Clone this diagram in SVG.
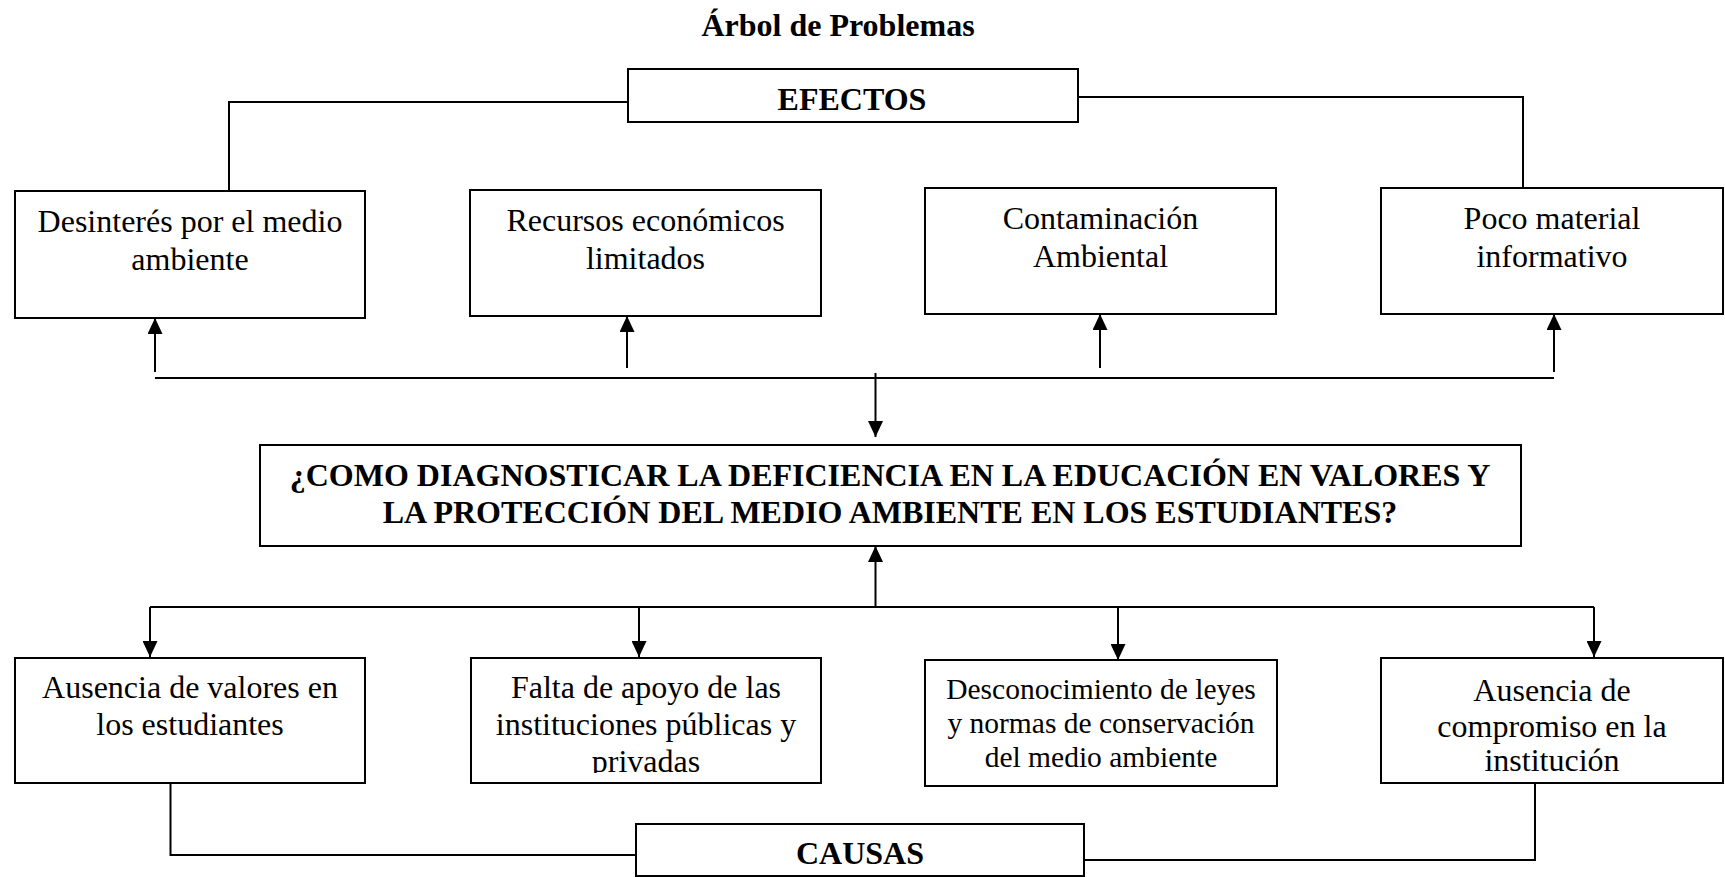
<svg xmlns="http://www.w3.org/2000/svg" width="1725" height="877" viewBox="0 0 1725 877">
<style>
.box{fill:#fff;stroke:#000;stroke-width:2}
.t{font-family:"Liberation Serif","Times New Roman",serif;font-size:32px;fill:#000;text-anchor:middle}
.b{font-weight:bold}
.s{font-size:29.5px}
.c{fill:none;stroke:#000;stroke-width:2}
</style>
<defs>
<marker id="ah" markerUnits="userSpaceOnUse" markerWidth="16" markerHeight="15" refX="16" refY="7.5" orient="auto">
<path d="M0,0 L16,7.5 L0,15 z" fill="#000"/>
</marker>
<clipPath id="clipFalta"><rect x="471" y="658" width="350" height="115"/></clipPath>
</defs>
<rect width="1725" height="877" fill="#fff"/>
<text class="t b" x="838" y="36">Árbol de Problemas</text>

<g id="connectors">
<polyline class="c" points="628,102 229,102 229,191"/>
<polyline class="c" points="1078,97 1523,97 1523,188"/>
<line class="c" x1="155" y1="372" x2="155" y2="318" marker-end="url(#ah)"/>
<line class="c" x1="627" y1="368" x2="627" y2="316" marker-end="url(#ah)"/>
<line class="c" x1="1100" y1="368" x2="1100" y2="314" marker-end="url(#ah)"/>
<line class="c" x1="1554" y1="372" x2="1554" y2="314" marker-end="url(#ah)"/>
<line class="c" x1="155" y1="378" x2="1554" y2="378"/>
<line class="c" x1="875.5" y1="373" x2="875.5" y2="437" marker-end="url(#ah)"/>
<line class="c" x1="875.5" y1="607" x2="875.5" y2="546" marker-end="url(#ah)"/>
<line class="c" x1="150" y1="607" x2="1594" y2="607"/>
<line class="c" x1="150" y1="607" x2="150" y2="657" marker-end="url(#ah)"/>
<line class="c" x1="639" y1="607" x2="639" y2="657" marker-end="url(#ah)"/>
<line class="c" x1="1118" y1="607" x2="1118" y2="660" marker-end="url(#ah)"/>
<line class="c" x1="1594" y1="607" x2="1594" y2="657" marker-end="url(#ah)"/>
<polyline class="c" points="170.5,783 170.5,855 636,855"/>
<polyline class="c" points="1535,783 1535,860 1084,860"/>
</g>

<g id="efectos">
<rect class="box" x="628" y="69" width="450" height="53"/>
<text class="t b" x="852" y="110">EFECTOS</text>
</g>
<g id="desinteres">
<rect class="box" x="15" y="191" width="350" height="127"/>
<text class="t" x="190" y="232">Desinterés por el medio</text>
<text class="t" x="190" y="270">ambiente</text>
</g>
<g id="recursos">
<rect class="box" x="470" y="190" width="351" height="126"/>
<text class="t" x="645.5" y="231">Recursos económicos</text>
<text class="t" x="645.5" y="269">limitados</text>
</g>
<g id="contaminacion">
<rect class="box" x="925" y="188" width="351" height="126"/>
<text class="t" x="1100.5" y="229">Contaminación</text>
<text class="t" x="1100.5" y="267">Ambiental</text>
</g>
<g id="poco">
<rect class="box" x="1381" y="188" width="342" height="126"/>
<text class="t" x="1552" y="229">Poco material</text>
<text class="t" x="1552" y="267">informativo</text>
</g>

<g id="problema">
<rect class="box" x="260" y="445" width="1261" height="101"/>
<text class="t b" x="890" y="486">¿COMO DIAGNOSTICAR LA DEFICIENCIA EN LA EDUCACIÓN EN VALORES Y</text>
<text class="t b" x="890" y="523">LA PROTECCIÓN DEL MEDIO AMBIENTE EN LOS ESTUDIANTES?</text>
</g>

<g id="ausencia-valores">
<rect class="box" x="15" y="658" width="350" height="125"/>
<text class="t" x="190" y="698">Ausencia de valores en</text>
<text class="t" x="190" y="735">los estudiantes</text>
</g>
<g id="falta-apoyo">
<rect class="box" x="471" y="658" width="350" height="125"/>
<g clip-path="url(#clipFalta)">
<text class="t" x="646" y="698">Falta de apoyo de las</text>
<text class="t" x="646" y="735">instituciones públicas y</text>
<text class="t" x="646" y="772">privadas</text>
</g>
</g>
<g id="desconocimiento">
<rect class="box" x="925" y="660" width="352" height="126"/>
<text class="t s" x="1101" y="699">Desconocimiento de leyes</text>
<text class="t s" x="1101" y="733">y normas de conservación</text>
<text class="t s" x="1101" y="767">del medio ambiente</text>
</g>
<g id="ausencia-compromiso">
<rect class="box" x="1381" y="658" width="342" height="125"/>
<text class="t" x="1552" y="701">Ausencia de</text>
<text class="t" x="1552" y="737">compromiso en la</text>
<text class="t" x="1552" y="771">institución</text>
</g>

<g id="causas">
<rect class="box" x="636" y="824" width="448" height="52"/>
<text class="t b" x="860" y="864">CAUSAS</text>
</g>
</svg>
